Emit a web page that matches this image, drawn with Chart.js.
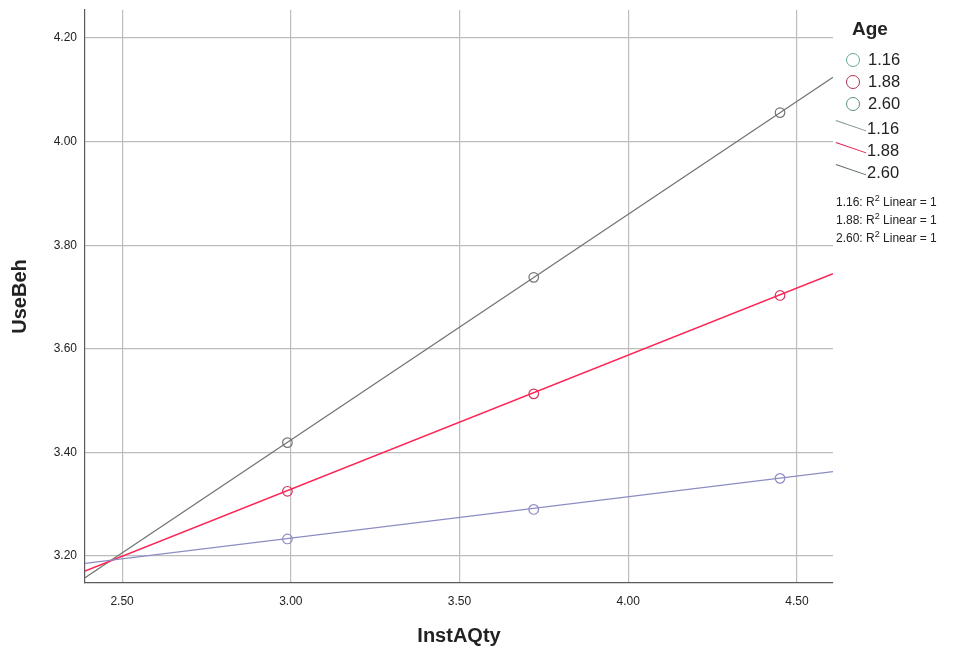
<!DOCTYPE html>
<html>
<head>
<meta charset="utf-8">
<script src="https://cdn.jsdelivr.net/npm/chart.js@4.4.1/dist/chart.umd.min.js"></script>
<style>
  html, body { margin: 0; padding: 0; background: #fff; }
  #wrap { position: relative; width: 962px; height: 652px; font-family: "Liberation Sans", Arial, sans-serif; color: #222; }
  #chart { position: absolute; left: 0; top: 0; }
  .lg { position: absolute; white-space: nowrap; }
  .circ { position: absolute; width: 14px; height: 14px; border-radius: 50%; border: 1.3px solid; box-sizing: border-box; }
  .ln { position: absolute; height: 1.2px; width: 32px; transform-origin: 0 0; transform: rotate(19deg); }
  .r2 { position: absolute; font-size: 12px; white-space: nowrap; }
  .r2 sup { font-size: 9px; vertical-align: 5px; line-height: 0; }
</style>
</head>
<body>
<div id="wrap">
  <canvas id="chart" width="962" height="652"></canvas>
  <div id="legend"></div>
</div>
<script>
// kategori umur
const ageGroups = ["1.16", "1.88", "2.60"];

// titik InstAQty (sumbu x)
const xValues = [2.99, 3.72, 4.45];

// nilai UseBeh per kelompok umur
const useBeh116 = [3.233, 3.290, 3.350];
const useBeh188 = [3.325, 3.513, 3.703];
const useBeh260 = [3.419, 3.738, 4.056];

// ujung garis regresi (kiri dan kanan plot)
const fitX = [2.39, 4.607];
const fit116 = [3.186, 3.363];
const fit188 = [3.171, 3.745];
const fit260 = [3.158, 4.124];

// label tick
const xTicks = [2.5, 3.0, 3.5, 4.0, 4.5];
const yTicks = [3.2, 3.4, 3.6, 3.8, 4.0, 4.2];

const pointColors = ["#8c8cc0", "#d2345e", "#767676"];
const lineColors = ["#8c8cc4", "#ff2252", "#6e766f"];

const toPts = (xs, ys) => xs.map((x, i) => ({ x: x, y: ys[i] }));

const pointSets = [useBeh116, useBeh188, useBeh260];
const fitSets = [fit116, fit188, fit260];

const datasets = [];
fitSets.forEach((ys, i) => {
  datasets.push({
    label: ageGroups[i] + " fit",
    data: toPts(fitX, ys),
    showLine: true,
    borderColor: lineColors[i],
    borderWidth: i === 1 ? 1.5 : 1.2,
    pointRadius: 0,
    fill: false,
  });
});
pointSets.forEach((ys, i) => {
  datasets.push({
    label: ageGroups[i],
    data: toPts(xValues, ys),
    showLine: false,
    pointRadius: 4.8,
    pointBorderWidth: 1.2,
    pointBorderColor: pointColors[i],
    pointBackgroundColor: "rgba(255,255,255,0)",
  });
});

const font = "'Liberation Sans', Arial, sans-serif";

new Chart(document.getElementById("chart").getContext("2d"), {
  type: "scatter",
  data: { datasets: datasets },
  options: {
    responsive: false,
    animation: false,
    layout: { padding: { left: 0, right: 129, top: 10, bottom: 0 } },
    plugins: { legend: { display: false }, tooltip: { enabled: false } },
    scales: {
      x: {
        type: "linear",
        min: 2.39,
        max: 4.607,
        afterBuildTicks: (s) => { s.ticks = xTicks.map((v) => ({ value: v })); },
        afterFit: (s) => { s.height = 69; s.paddingLeft = 0; s.paddingRight = 0; },
        grid: { color: "#bdbdbd", lineWidth: 1.2, drawTicks: false },
        border: { color: "#5a5a5a", width: 1.2 },
        ticks: {
          color: "#222",
          padding: 11,
          font: { family: font, size: 12 },
          callback: (v) => v.toFixed(2),
        },
        title: {
          display: true,
          text: "InstAQty",
          color: "#222",
          padding: { top: 12 },
          font: { family: font, size: 20, weight: "bold" },
        },
      },
      y: {
        type: "linear",
        min: 3.148,
        max: 4.254,
        afterBuildTicks: (s) => { s.ticks = yTicks.map((v) => ({ value: v })); },
        afterFit: (s) => { s.width = 85; s.paddingTop = 0; s.paddingBottom = 0; },
        grid: { color: "#bdbdbd", lineWidth: 1.2, drawTicks: false },
        border: { color: "#5a5a5a", width: 1.2 },
        ticks: {
          color: "#222",
          padding: 8,
          font: { family: font, size: 12 },
          callback: (v) => v.toFixed(2),
        },
        title: {
          display: true,
          text: "UseBeh",
          color: "#222",
          padding: { top: 8, bottom: 0 },
          font: { family: font, size: 20, weight: "bold" },
        },
      },
    },
  },
});

// legend manual ala SPSS
const legendCircle = ["#62a99a", "#b3304f", "#5f8c7c"];
const legendLine = ["#7f948c", "#e0204e", "#5d6a62"];
const lg = document.getElementById("legend");
let html = '<div class="lg" style="left:852px;top:18px;font-size:19px;font-weight:bold;">Age</div>';
ageGroups.forEach((a, i) => {
  const y = 53 + i * 22;
  html += '<div class="circ" style="left:846px;top:' + y + 'px;border-color:' + legendCircle[i] + ';"></div>';
  html += '<div class="lg" style="left:868px;top:' + (y - 3) + 'px;font-size:16.5px;">' + a + '</div>';
});
ageGroups.forEach((a, i) => {
  const y = 120 + i * 22;
  html += '<div class="ln" style="left:836px;top:' + y + 'px;background:' + legendLine[i] + ';"></div>';
  html += '<div class="lg" style="left:867px;top:' + (y - 1) + 'px;font-size:16.5px;">' + a + '</div>';
});
ageGroups.forEach((a, i) => {
  const y = 195 + i * 18;
  html += '<div class="r2" style="left:836px;top:' + y + 'px;">' + a + ': R<sup>2</sup> Linear = 1</div>';
});
lg.innerHTML = html;
</script>
</body>
</html>
